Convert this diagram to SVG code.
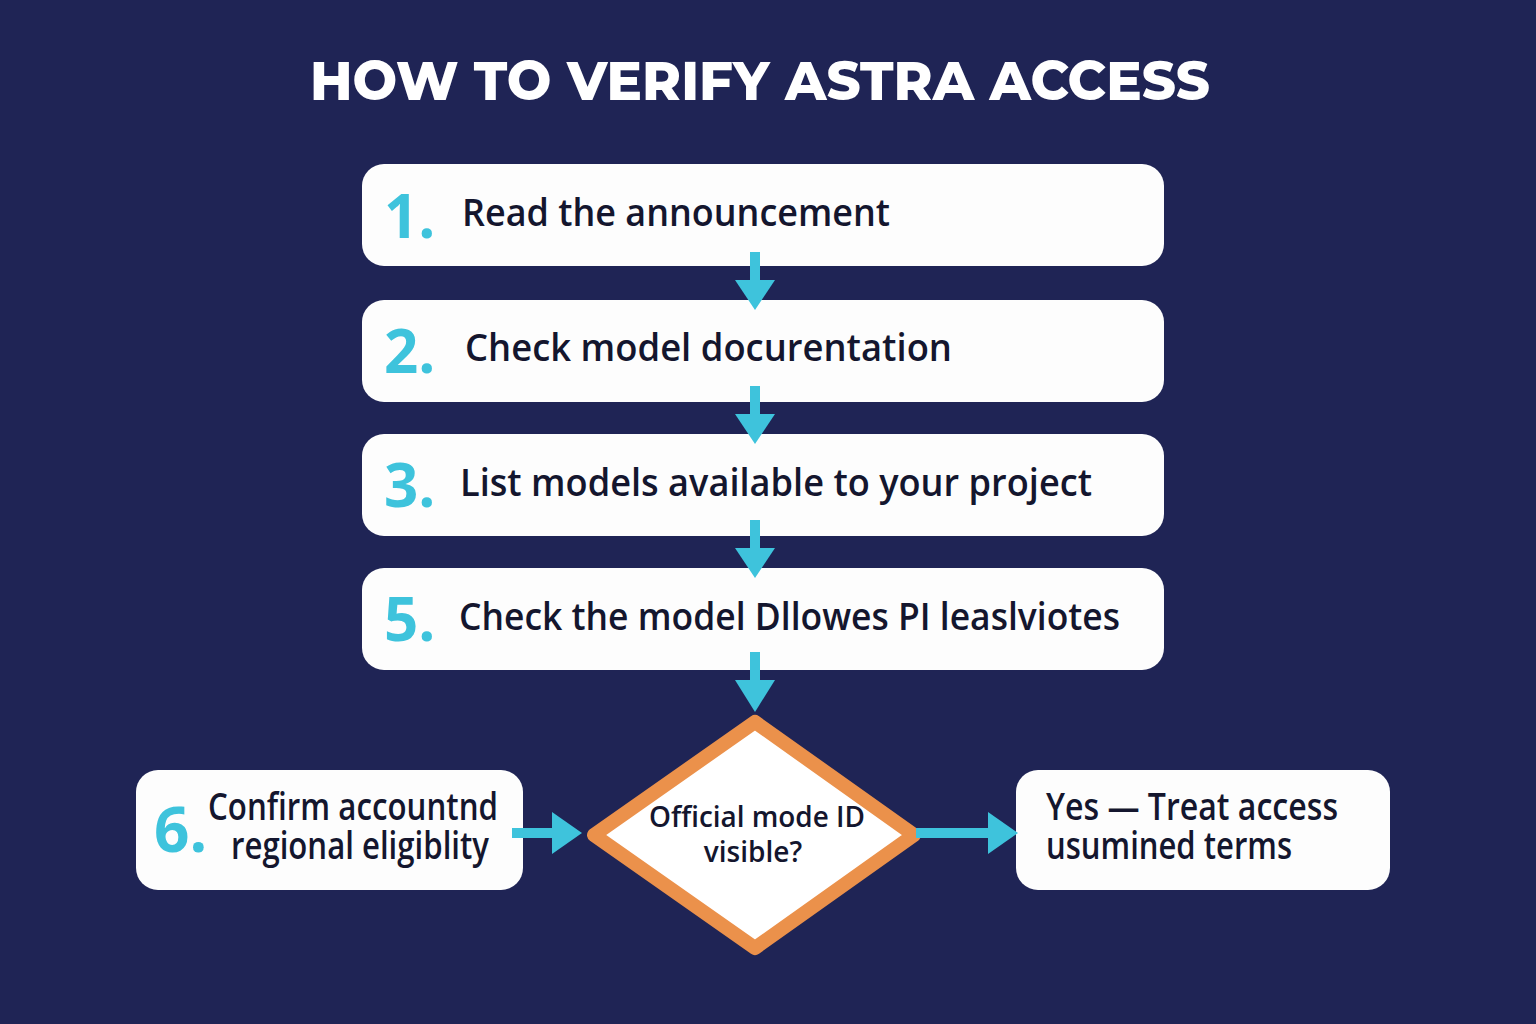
<svg xmlns="http://www.w3.org/2000/svg" width="1536" height="1024" viewBox="0 0 1536 1024">
<defs>
<style>
.box{fill:#fdfdfd}
.num{font-family:"Open Sans","Liberation Sans",sans-serif;font-weight:700;fill:#3ec3dc}
.t{font-family:"Open Sans","Liberation Sans",sans-serif;font-size:37px;fill:#14162e;font-weight:600}
.c{stroke:#3ec3dc;stroke-width:10;fill:none}
.h{fill:#3ec3dc}
</style>
</defs>
<rect width="1536" height="1024" fill="#1f2455"/>
<text x="760" y="100" text-anchor="middle" font-family="Montserrat,'Open Sans','Liberation Sans',sans-serif" font-weight="800" font-size="54" fill="#ffffff" textLength="900" lengthAdjust="spacingAndGlyphs">HOW TO VERIFY ASTRA ACCESS</text>
<g id="n1"><rect class="box" x="362" y="164" width="802" height="102" rx="22"/><text class="num" x="384" y="238" font-size="60">1.</text><text class="t" x="462" y="226" textLength="428" lengthAdjust="spacingAndGlyphs">Read the announcement</text></g>
<g id="n2"><rect class="box" x="362" y="300" width="802" height="102" rx="22"/><text class="num" x="384" y="373" font-size="60">2.</text><text class="t" x="465" y="361" textLength="487" lengthAdjust="spacingAndGlyphs">Check model docurentation</text></g>
<g id="n3"><rect class="box" x="362" y="434" width="802" height="102" rx="22"/><text class="num" x="384" y="507" font-size="60">3.</text><text class="t" x="460" y="496" textLength="632" lengthAdjust="spacingAndGlyphs">List models available to your project</text></g>
<g id="n5"><rect class="box" x="362" y="568" width="802" height="102" rx="22"/><text class="num" x="384" y="641" font-size="60">5.</text><text class="t" x="459" y="630" textLength="661" lengthAdjust="spacingAndGlyphs">Check the model Dllowes PI leaslviotes</text></g>
<g id="d"><polygon points="755,722 914,835 755,948 594,835" fill="#ffffff" stroke="#eb914b" stroke-width="14" stroke-linejoin="round"/><text x="757" y="827" text-anchor="middle" font-family="'Open Sans','Liberation Sans',sans-serif" font-size="28" font-weight="600" fill="#14162e" textLength="216" lengthAdjust="spacingAndGlyphs">Official mode ID</text><text x="753" y="862" text-anchor="middle" font-family="'Open Sans','Liberation Sans',sans-serif" font-size="28" font-weight="600" fill="#14162e">visible?</text></g>
<g id="n6"><rect class="box" x="136" y="770" width="387" height="120" rx="22"/><text class="num" x="154" y="852" font-size="62">6.</text><text class="t" x="208" y="820" font-size="30" textLength="290" lengthAdjust="spacingAndGlyphs">Confirm accountnd</text><text class="t" x="231" y="859" font-size="30" textLength="258" lengthAdjust="spacingAndGlyphs">regional eligiblity</text></g>
<g id="ny"><rect class="box" x="1016" y="770" width="374" height="120" rx="22"/><text class="t" x="1046" y="820" font-size="30" textLength="292" lengthAdjust="spacingAndGlyphs">Yes — Treat access</text><text class="t" x="1046" y="859" font-size="30" textLength="246" lengthAdjust="spacingAndGlyphs">usumined terms</text></g>
<g id="connectors">
<line class="c" x1="755" y1="252" x2="755" y2="284"/><polygon class="h" points="735,280 775,280 755,310"/>
<line class="c" x1="755" y1="386" x2="755" y2="418"/><polygon class="h" points="735,414 775,414 755,444"/>
<line class="c" x1="755" y1="520" x2="755" y2="552"/><polygon class="h" points="735,548 775,548 755,578"/>
<line class="c" x1="755" y1="652" x2="755" y2="684"/><polygon class="h" points="735,680 775,680 755,712"/>
<line class="c" x1="512" y1="833" x2="556" y2="833"/><polygon class="h" points="552,812 552,854 582,833"/>
<line class="c" x1="916" y1="833" x2="992" y2="833"/><polygon class="h" points="988,812 988,854 1018,833"/>
</g>
</svg>
